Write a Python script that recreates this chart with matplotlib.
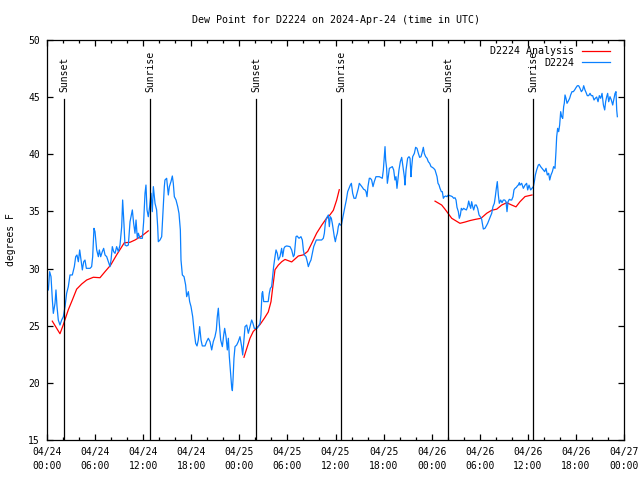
import matplotlib
matplotlib.use('Agg')
import matplotlib.pyplot as plt
import matplotlib.dates as mdates
from datetime import datetime, timedelta

start = datetime(2024, 4, 24)

# station obs, hours after 04/24 00:00 UTC
obs_hours = [
    0.17, 0.33, 0.50, 0.67, 0.79, 1.00, 1.12, 1.25, 1.41, 1.62, 1.83, 2.04, 2.25, 2.45, 2.66, 2.87,
    3.16, 3.41, 3.58, 3.74, 3.91, 4.08, 4.24, 4.41, 4.58, 4.74, 4.91, 5.37, 5.57, 5.70, 5.86, 5.99,
    6.20, 6.41, 6.53, 6.70, 6.90, 7.07, 7.24, 7.45, 7.65, 7.86, 7.99, 8.15, 8.32, 8.49, 8.69, 8.90,
    9.11, 9.32, 9.44, 9.61, 9.73, 9.94, 10.15, 10.36, 10.48, 10.65, 10.81, 10.98, 11.11, 11.27,
    11.40, 11.60, 11.90, 12.06, 12.23, 12.35, 12.48, 12.64, 12.81, 12.98, 13.14, 13.27, 13.48,
    13.68, 13.81, 13.89, 14.10, 14.31, 14.47, 14.64,
    14.72, 14.93, 15.14, 15.27, 15.47, 15.64, 15.76, 15.89, 16.10, 16.31, 16.47, 16.64, 16.72,
    16.89, 17.10, 17.30, 17.43, 17.64, 17.80, 17.97, 18.18, 18.34, 18.55, 18.72, 18.88, 19.05,
    19.22, 19.38, 19.72, 19.92, 20.13, 20.34, 20.55, 20.75, 20.96, 21.13, 21.25, 21.38, 21.50,
    21.67, 21.88, 22.05, 22.17, 22.34, 22.50, 22.63, 22.75, 22.88, 23.04, 23.13, 23.21, 23.33,
    23.46, 23.67, 23.87, 24.08, 24.29, 24.42, 24.58, 24.71, 24.92, 25.12, 25.33, 25.54, 25.70,
    25.87, 26.04, 26.20, 26.37, 26.58, 26.70, 26.83, 26.91, 27.04, 27.20, 27.40, 27.60, 27.74,
    27.87, 28.03, 28.16, 28.28, 28.45, 28.58, 28.74, 28.87, 29.07, 29.28, 29.41, 29.57,
    29.70, 29.91, 30.32, 30.53, 30.74, 30.86, 31.07, 31.20, 31.45, 31.69, 31.86, 31.99, 32.11,
    32.32, 32.48, 32.61, 32.78, 32.94, 33.11, 33.28, 33.44, 33.61, 33.86, 34.27, 34.48, 34.61,
    34.73, 34.86, 34.98, 35.11, 35.23, 35.35, 35.48, 35.60, 35.73, 35.85, 35.98, 36.10, 36.23,
    36.35, 36.48, 36.60, 36.73, 36.85, 37.02, 37.18, 37.35, 37.52, 37.68, 37.85, 37.98, 38.14,
    38.31, 38.52, 38.68, 38.85, 38.97, 39.14, 39.35, 39.51, 39.68, 39.81, 39.93, 40.05, 40.22,
    40.35, 40.51, 40.68, 40.84, 41.05, 41.26, 41.47, 41.68, 41.84, 41.97, 42.09, 42.18, 42.26,
    42.38, 42.47, 42.59, 42.72, 42.93, 43.09, 43.26, 43.42, 43.55, 43.67, 43.80, 43.92, 44.09,
    44.26, 44.42, 44.59,
    44.67, 44.80, 45.00, 45.17, 45.30, 45.42, 45.51, 45.63, 45.84, 46.00, 46.17, 46.34, 46.50,
    46.67, 46.84, 46.96, 47.08, 47.25, 47.42, 47.58, 47.75, 47.92, 48.08, 48.25, 48.42, 48.54,
    48.67, 48.79, 48.92, 49.04, 49.21, 49.33, 49.46, 49.58, 49.75, 49.91, 50.08, 50.25, 50.41,
    50.58, 50.75, 50.91, 51.04, 51.16, 51.33, 51.45, 51.58, 51.70, 51.83, 51.99, 52.16, 52.33,
    52.49, 52.62, 52.74, 52.87, 52.99, 53.12, 53.24, 53.41, 53.57, 53.74, 53.91, 54.07, 54.24,
    54.32, 54.45, 54.65, 54.82, 54.99, 55.15, 55.32, 55.49, 55.65, 55.82, 55.94, 56.07, 56.19,
    56.32, 56.44, 56.61, 56.78, 56.94, 57.11, 57.28, 57.40, 57.53, 57.69, 57.86, 57.99, 58.15,
    58.27, 58.40, 58.57, 58.69, 58.81, 58.94,
    59.02, 59.23, 59.44, 59.65, 59.85, 59.98, 60.15, 60.35, 60.52, 60.69, 60.81, 60.94, 61.10,
    61.31, 61.43, 61.60, 61.77, 61.93, 62.10, 62.27, 62.43, 62.60, 62.73, 62.89, 63.06, 63.22,
    63.39, 63.51, 63.60, 63.72, 63.85, 63.97, 64.10, 64.22, 64.35, 64.47, 64.55, 64.64, 64.76,
    64.89, 65.05, 65.22, 65.34, 65.51, 65.68, 65.84, 66.01, 66.18, 66.34, 66.51, 66.68, 66.84,
    66.97, 67.13, 67.26, 67.42, 67.59, 67.76, 67.92, 68.09, 68.26, 68.42, 68.59, 68.76, 68.92,
    69.09, 69.26, 69.43, 69.59, 69.71, 69.84, 69.96, 70.09, 70.25, 70.42, 70.59, 70.72, 70.88,
    71.00, 71.09, 71.17,
]
obs_dewpt = [
    28.13, 29.73, 29.29, 27.25, 26.08, 26.96, 28.13, 26.67, 25.50, 25.06, 25.50, 25.79, 26.67, 27.84, 28.42, 29.44,
    29.44, 30.17, 31.04, 31.19, 30.60, 31.63, 30.75, 29.88, 30.60, 30.75, 30.02, 30.02, 30.17, 31.04, 33.52, 33.23,
    31.63, 31.04, 31.63, 31.04, 31.48, 31.77, 31.19, 31.04, 30.60, 30.17, 30.75, 31.92, 31.48, 31.33, 31.92, 31.48,
    32.06, 33.67, 36.00, 33.81, 32.06, 31.98, 32.06, 34.10, 34.54, 35.13, 33.96, 33.09, 34.25, 32.65,
    33.09, 32.65, 32.65, 34.10, 36.59, 37.31, 35.13, 34.54, 35.42, 36.59, 34.98, 37.17, 35.71,
    35.13, 33.67, 32.35, 32.50, 32.79, 34.83, 37.17,
    37.75, 37.90, 36.44, 37.17, 37.61, 38.10, 37.46, 36.29, 36.00, 35.42, 34.83, 33.38, 30.75,
    29.44, 29.29, 28.56, 27.54, 27.98, 27.11, 26.67, 25.79, 24.63, 23.46, 23.23, 23.75, 24.92,
    23.75, 23.23, 23.23, 23.61, 23.90, 23.61, 22.88, 23.61, 24.04, 24.63, 25.79, 26.53, 25.21,
    23.75, 23.17, 24.19, 24.77, 24.04, 22.88, 23.90, 22.29, 21.13, 19.67, 19.32, 20.25, 22.15,
    23.17, 23.31, 23.61, 24.04, 23.17, 22.44, 23.75, 24.92, 25.06, 24.34, 24.92, 25.50, 25.21,
    24.77, 24.77, 24.77, 24.92, 25.21, 25.94, 27.84, 27.98, 27.11, 27.11, 27.11, 27.11, 27.84,
    28.27, 28.42, 29.29, 30.17, 31.04, 31.63, 31.33, 30.75, 31.04, 31.77, 31.04, 31.77,
    31.92, 31.98, 31.92, 31.63, 31.04, 31.19, 32.79, 32.85, 32.65, 32.79, 32.50, 31.63, 31.19,
    31.04, 30.60, 30.17, 30.52, 30.75, 31.33, 31.92, 32.21, 32.50, 32.50, 32.50, 32.65, 33.09,
    33.96, 34.40, 34.54, 34.69, 33.67, 34.54, 34.40, 33.96, 33.38, 32.79, 32.35, 32.79, 33.09,
    33.67, 33.96, 33.81, 33.81, 34.25, 34.83, 35.42, 36.00, 36.73, 37.02, 37.31, 37.46, 36.59,
    36.15, 36.15, 36.59, 37.02, 37.46, 37.31, 37.11, 36.94, 36.88, 36.73, 36.29, 37.17, 37.90,
    37.90, 37.75, 37.17, 37.61, 38.04, 38.04, 38.04, 37.96, 37.90, 38.63, 39.85, 40.67, 39.50,
    38.77, 37.46, 38.04, 38.77, 38.86, 38.92, 38.63, 37.75, 38.04, 37.02, 37.90, 38.63, 39.35,
    39.73, 38.92, 38.04,
    37.31, 38.63, 39.65, 39.79, 39.65, 38.04, 38.92, 39.79, 40.08, 40.61, 40.52, 40.08, 39.73,
    39.79, 40.23, 40.61, 40.08, 39.79, 39.65, 39.35, 39.21, 38.92, 38.86, 38.77, 38.63, 38.34,
    38.04, 37.46, 37.31, 37.02, 36.73, 36.73, 36.15, 36.29, 36.35, 36.29, 36.44, 36.38, 36.35,
    36.29, 36.15, 36.20, 36.00, 35.36, 34.98, 34.40, 34.69, 35.27, 35.13, 35.27, 35.19, 35.13,
    35.42, 35.91, 35.56, 35.27, 35.85, 35.42, 35.13, 35.56, 35.56, 35.27, 34.69, 34.54, 34.31,
    33.96, 33.46, 33.52, 33.73, 33.96, 34.25, 34.54, 34.83, 35.42, 35.71, 36.29, 37.02, 37.61,
    36.44, 35.71, 36.00, 35.77, 36.00, 36.00, 35.85, 34.98, 35.85, 36.06, 36.00, 36.00, 36.29,
    36.88, 37.02, 37.11, 37.23, 37.31, 37.52,
    37.30, 37.46, 37.02, 37.30, 37.46, 36.88, 37.30, 36.88, 37.02, 37.17, 37.60, 38.19, 38.63,
    39.06, 39.12, 38.92, 38.77, 38.63, 38.48, 38.77, 38.19, 38.34, 37.75, 38.19, 38.48, 38.92,
    38.77, 40.23, 41.54, 42.27, 41.98, 42.56, 43.73, 43.29, 43.14, 44.17, 44.46, 45.19, 44.90,
    44.46, 44.66, 44.90, 45.19, 45.48, 45.48, 45.63, 45.83, 46.00, 46.00, 45.77, 45.48, 45.63,
    46.00, 45.63, 45.42, 45.13, 45.13, 45.33, 45.13, 45.13, 44.75, 44.90, 45.01, 44.60, 45.13,
    44.90, 45.33, 44.31, 43.88, 44.60, 45.04, 45.33, 44.60, 45.04, 44.75, 44.31, 44.75, 45.33,
    45.48, 43.88, 43.29,
]

# analysis, three stretches (nan breaks the line)
ana_hours = [
    0.66, 1.62, 2.04, 2.66, 3.16, 3.70, 4.33, 4.95, 5.78, 6.61, 7.24, 7.94, 8.69, 9.65, 10.36,
    10.98, 11.82, 12.64, 18.0,
    24.58, 24.92, 25.33, 25.74, 26.17, 26.58, 27.12, 27.61, 27.95, 28.16, 28.45, 28.86, 29.29,
    29.70, 30.53, 31.36, 31.99, 32.53, 33.03, 33.65, 34.28, 34.78, 35.31, 35.73, 36.15, 36.47, 42.0,
    48.42, 49.25, 49.66, 50.08, 50.50, 51.53, 52.16, 52.78, 53.41, 54.16, 54.87, 55.49, 56.12,
    56.74, 57.36, 57.99, 58.52, 59.02, 59.65, 60.52,
]
ana_dewpt = [
    25.4, 24.3, 25.1, 26.4, 27.25, 28.2, 28.65, 29.0, 29.24, 29.2, 29.73, 30.3, 31.2, 32.26, 32.3,
    32.5, 32.85, 33.3, float('nan'),
    22.24, 23.0, 23.9, 24.5, 24.8, 25.1, 25.65, 26.2, 27.1, 28.3, 29.9, 30.3, 30.6,
    30.8, 30.58, 31.1, 31.2, 31.5, 32.2, 33.1, 33.8, 34.3, 34.7, 35.1, 36.0, 36.9, float('nan'),
    35.9, 35.56, 35.2, 34.8, 34.4, 33.96, 34.07, 34.2, 34.3, 34.4, 34.84, 35.1, 35.2,
    35.56, 35.76, 35.56, 35.4, 35.85, 36.3, 36.44,
]

sun_hours = [2.12, 12.85, 26.08, 36.69, 50.06, 60.69]
sun_labels = ['Sunset', 'Sunrise', 'Sunset', 'Sunrise', 'Sunset', 'Sunrise']

plt.rcParams['font.family'] = 'DejaVu Sans Mono'
plt.rcParams['font.size'] = 7

obs_t = [start + timedelta(hours=h) for h in obs_hours]
ana_t = [start + timedelta(hours=h) for h in ana_hours]
sun_t = [start + timedelta(hours=h) for h in sun_hours]

fig = plt.figure(figsize=(6.4, 4.8), dpi=100)
ax = fig.add_axes([47 / 640, 40 / 480, 577 / 640, 400 / 480])

ax.plot(ana_t, ana_dewpt, color='#ff0000', lw=0.9, label='D2224 Analysis')
ax.plot(obs_t, obs_dewpt, color='#0a80ff', lw=0.9, label='D2224')

for t, lab in zip(sun_t, sun_labels):
    ax.axvline(t, ymin=0, ymax=0.8525, color='black', lw=0.9)
    ax.text(t, 0.87, lab, rotation=90, ha='center', va='bottom',
            transform=ax.get_xaxis_transform())

ax.set_xlim(start, start + timedelta(hours=72))
ax.set_ylim(15, 50)
ax.set_yticks(range(15, 51, 5))
ax.xaxis.set_major_locator(mdates.HourLocator(byhour=range(0, 24, 6)))
ax.xaxis.set_minor_locator(mdates.HourLocator(byhour=range(0, 24, 2)))
ax.xaxis.set_major_formatter(mdates.DateFormatter('%m/%d\n%H:%M'))
ax.tick_params(which='both', direction='in', top=True, right=True, width=0.9)
ax.tick_params(which='major', length=4, pad=5)
ax.tick_params(which='minor', length=2.5)
for lbl in ax.get_xticklabels():
    lbl.set_linespacing(1.45)
for s in ax.spines.values():
    s.set_linewidth(0.9)

ax.set_title('Dew Point for D2224 on 2024-Apr-24 (time in UTC)', fontsize=7.2, pad=12)
ax.set_ylabel('degrees F', labelpad=9)

ax.legend(loc='upper right', bbox_to_anchor=(0.976, 0.984), frameon=False,
          markerfirst=False, handlelength=2.85, handletextpad=0.75,
          labelspacing=0.15, borderpad=0, borderaxespad=0, fontsize=7.2)

fig.savefig('out.png', dpi=100)
